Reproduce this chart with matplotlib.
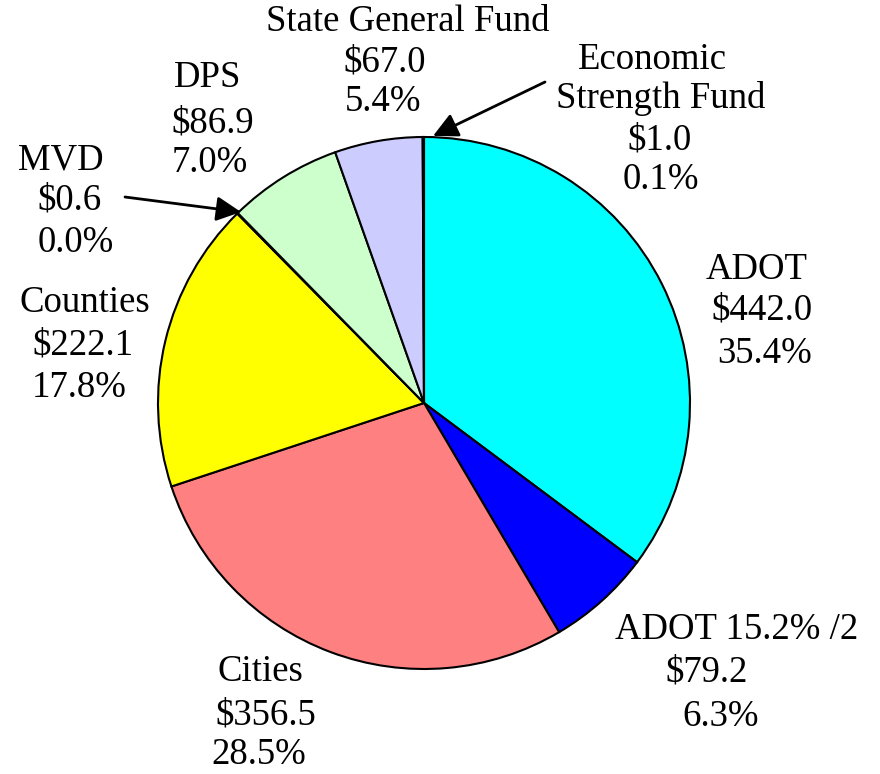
#!/usr/bin/env python3
"""Pie chart of fund distribution ($ millions), recreated with matplotlib."""
import matplotlib
matplotlib.use("Agg")
import matplotlib.pyplot as plt

# slices, clockwise from 12 o'clock
NAMES = ["ADOT", "ADOT 15.2% /2", "Cities", "Counties", "MVD", "DPS",
         "State General Fund", "Economic Strength Fund"]
AMOUNTS = [442.0, 79.2, 356.5, 222.1, 0.6, 86.9, 67.0, 1.0]
PERCENTS = ["35.4%", "6.3%", "28.5%", "17.8%", "0.0%", "7.0%", "5.4%", "0.1%"]
COLORS = ["#00FFFF", "#0000FF", "#FF8080", "#FFFF00", "#993366",
          "#CCFFCC", "#CCCCFF", "#FF00FF"]

W, H = 880, 774
CX, CY, R = 424, 403, 266  # pie centre / radius in pixels (y from top)

plt.rcParams["font.family"] = ["Liberation Serif", "DejaVu Serif"]
FS = 26.5


def py(y):
    return H - y


fig = plt.figure(figsize=(W / 100, H / 100), dpi=100)
ax = fig.add_axes([0, 0, 1, 1])

ax.pie(AMOUNTS, colors=COLORS, startangle=90, counterclock=False,
       center=(CX, py(CY)), radius=R, frame=True,
       wedgeprops=dict(edgecolor="black", linewidth=1.5))
ax.set_xlim(0, W)
ax.set_ylim(0, H)
ax.set_aspect("equal")
ax.axis("off")

# label lines: (text, x centre, y centre in px from top)
label_lines = [
    ("State General Fund", 408, 22), (f"${AMOUNTS[6]:.1f}", 385, 62), (PERCENTS[6], 383, 102),
    ("Economic", 652, 60), ("Strength Fund", 661, 98),
    (f"${AMOUNTS[7]:.1f}", 660, 140), (PERCENTS[7], 661, 180),
    ("DPS", 208, 78), (f"${AMOUNTS[5]:.1f}", 213, 123), (PERCENTS[5], 210, 163),
    ("MVD", 61, 160), (f"${AMOUNTS[4]:.1f}", 70, 200), (PERCENTS[4], 76, 243),
    ("Counties", 85, 303), (f"${AMOUNTS[3]:.1f}", 83, 345), (PERCENTS[3], 79, 388),
    ("ADOT", 757, 270), (f"${AMOUNTS[0]:.1f}", 762, 310), (PERCENTS[0], 765, 354),
    ("ADOT 15.2% /2", 737, 630), (f"${AMOUNTS[1]:.1f}", 707, 672), (PERCENTS[1], 721, 717),
    ("Cities", 260, 672), (f"${AMOUNTS[2]:.1f}", 266, 715), (PERCENTS[2], 259, 755),
]
for txt, x, y in label_lines:
    ax.text(x, py(y), txt, fontsize=FS, ha="center", va="center")

# leader arrows for the tiny slices
arrow = dict(arrowstyle="-|>,head_length=1.5,head_width=0.75", color="black",
             lw=2, shrinkA=0, shrinkB=0)
ax.annotate("", xy=(433, py(136)), xytext=(545, py(82)), arrowprops=arrow)
ax.annotate("", xy=(241, py(212)), xytext=(125, py(197)), arrowprops=arrow)

fig.savefig("out.png", dpi=100)
